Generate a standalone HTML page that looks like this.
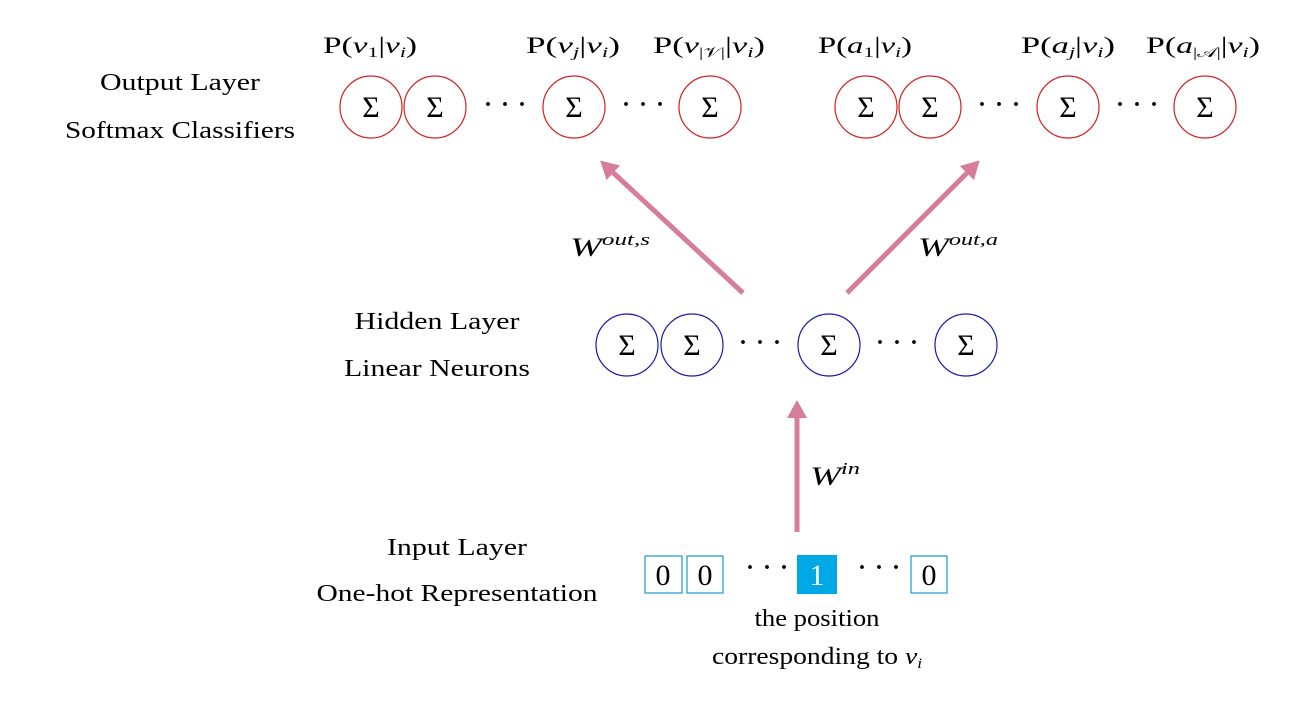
<!DOCTYPE html>
<html><head><meta charset="utf-8"><style>
html,body{margin:0;padding:0;background:#fff}
svg{display:block}
text{font-family:"Liberation Serif",serif;fill:#000}
.l{font-size:24px;text-anchor:middle}
.s{font-size:30px;text-anchor:middle}
.i{font-style:italic}
</style></head><body>
<svg width="1304" height="705" viewBox="0 0 1304 705" xmlns="http://www.w3.org/2000/svg">
<defs><marker id="ah" markerWidth="5" markerHeight="5" refX="2" refY="2.5" orient="auto" markerUnits="strokeWidth"><path d="M0,0.5 L3.6,2.5 L0,4.5 Z" fill="#d77d9c"/></marker></defs>
<!-- labels -->
<text class="l" x="180" y="90" textLength="160" lengthAdjust="spacingAndGlyphs">Output Layer</text>
<text class="l" x="180" y="138" textLength="230" lengthAdjust="spacingAndGlyphs">Softmax Classifiers</text>
<text class="l" x="437" y="329" textLength="165" lengthAdjust="spacingAndGlyphs">Hidden Layer</text>
<text class="l" x="437" y="376" textLength="186" lengthAdjust="spacingAndGlyphs">Linear Neurons</text>
<text class="l" x="457" y="555" textLength="140" lengthAdjust="spacingAndGlyphs">Input Layer</text>
<text class="l" x="457" y="601" textLength="281" lengthAdjust="spacingAndGlyphs">One-hot Representation</text>
<!-- P labels -->
<g font-size="23" text-anchor="middle">
<text x="370" y="53" textLength="94" lengthAdjust="spacingAndGlyphs">P(<tspan class="i">v</tspan><tspan font-size="15" dy="4">1</tspan><tspan dy="-4">|</tspan><tspan class="i">v</tspan><tspan font-size="15" class="i" dy="4">i</tspan><tspan dy="-4">)</tspan></text>
<text x="573" y="53" textLength="94" lengthAdjust="spacingAndGlyphs">P(<tspan class="i">v</tspan><tspan font-size="15" class="i" dy="4">j</tspan><tspan dy="-4">|</tspan><tspan class="i">v</tspan><tspan font-size="15" class="i" dy="4">i</tspan><tspan dy="-4">)</tspan></text>
<text x="709" y="53" textLength="112" lengthAdjust="spacingAndGlyphs">P(<tspan class="i">v</tspan><tspan font-size="14" dy="4">|𝒱|</tspan><tspan dy="-4">|</tspan><tspan class="i">v</tspan><tspan font-size="15" class="i" dy="4">i</tspan><tspan dy="-4">)</tspan></text>
<text x="865" y="53" textLength="94" lengthAdjust="spacingAndGlyphs">P(<tspan class="i">a</tspan><tspan font-size="15" dy="4">1</tspan><tspan dy="-4">|</tspan><tspan class="i">v</tspan><tspan font-size="15" class="i" dy="4">i</tspan><tspan dy="-4">)</tspan></text>
<text x="1068" y="53" textLength="94" lengthAdjust="spacingAndGlyphs">P(<tspan class="i">a</tspan><tspan font-size="15" class="i" dy="4">j</tspan><tspan dy="-4">|</tspan><tspan class="i">v</tspan><tspan font-size="15" class="i" dy="4">i</tspan><tspan dy="-4">)</tspan></text>
<text x="1203" y="53" textLength="114" lengthAdjust="spacingAndGlyphs">P(<tspan class="i">a</tspan><tspan font-size="14" dy="4">|𝒜|</tspan><tspan dy="-4">|</tspan><tspan class="i">v</tspan><tspan font-size="15" class="i" dy="4">i</tspan><tspan dy="-4">)</tspan></text>
</g>
<!-- output circles -->
<g fill="none" stroke="#d42020" stroke-width="1.2">
<circle cx="371" cy="107" r="31"/><circle cx="435" cy="107" r="31"/><circle cx="574" cy="107" r="31"/><circle cx="710" cy="107" r="31"/>
<circle cx="866" cy="107" r="31"/><circle cx="930" cy="107" r="31"/><circle cx="1068" cy="107" r="31"/><circle cx="1205" cy="107" r="31"/>
</g>
<g fill="none" stroke="#1a1aaa" stroke-width="1.2">
<circle cx="627" cy="345" r="31"/><circle cx="692" cy="345" r="31"/><circle cx="829" cy="345" r="31"/><circle cx="966" cy="345" r="31"/>
</g>
<g>
<text class="s" x="371" y="117">Σ</text><text class="s" x="435" y="117">Σ</text><text class="s" x="574" y="117">Σ</text><text class="s" x="710" y="117">Σ</text>
<text class="s" x="866" y="117">Σ</text><text class="s" x="930" y="117">Σ</text><text class="s" x="1068" y="117">Σ</text><text class="s" x="1205" y="117">Σ</text>
<text class="s" x="627" y="355">Σ</text><text class="s" x="692" y="355">Σ</text><text class="s" x="829" y="355">Σ</text><text class="s" x="966" y="355">Σ</text>
</g>
<g font-size="26" font-weight="bold">
<text class="l" x="505" y="112" textLength="42">· · ·</text><text class="l" x="643" y="112" textLength="42">· · ·</text>
<text class="l" x="999" y="112" textLength="42">· · ·</text><text class="l" x="1137" y="112" textLength="42">· · ·</text>
<text class="l" x="760" y="350" textLength="42">· · ·</text><text class="l" x="897" y="350" textLength="42">· · ·</text>
<text class="l" x="767" y="575" textLength="42">· · ·</text><text class="l" x="879" y="575" textLength="42">· · ·</text>
</g>
<!-- arrows -->
<g stroke="#d77d9c" stroke-width="5" fill="none">
<line x1="743" y1="293" x2="606" y2="166" marker-end="url(#ah)"/>
<line x1="847" y1="293" x2="974" y2="166" marker-end="url(#ah)"/>
<line x1="797" y1="532" x2="797" y2="408" marker-end="url(#ah)"/>
</g>
<text x="570" y="256" font-size="26" class="i" textLength="80" lengthAdjust="spacingAndGlyphs">W<tspan font-size="17" dy="-11">out,s</tspan></text>
<text x="918" y="256" font-size="26" class="i" textLength="80" lengthAdjust="spacingAndGlyphs">W<tspan font-size="17" dy="-11">out,a</tspan></text>
<text x="810" y="485" font-size="26" class="i" textLength="50" lengthAdjust="spacingAndGlyphs">W<tspan font-size="17" dy="-11">in</tspan></text>
<!-- input boxes -->
<g fill="none" stroke="#1a9ad0" stroke-width="1.2">
<rect x="645" y="556" width="37" height="37"/><rect x="687" y="556" width="36" height="37"/><rect x="911" y="556" width="36" height="37"/>
</g>
<rect x="797" y="555" width="40" height="39" fill="#00a8e6"/>
<g font-size="30" text-anchor="middle">
<text x="663" y="585">0</text><text x="705" y="585">0</text><text x="817" y="585" style="fill:#fff">1</text><text x="929" y="585">0</text>
</g>
<text class="l" x="817" y="626" textLength="125" lengthAdjust="spacingAndGlyphs">the position</text>
<text class="l" x="817" y="664" textLength="210" lengthAdjust="spacingAndGlyphs">corresponding to <tspan class="i">v</tspan><tspan font-size="15" class="i" dy="4">i</tspan></text>
</svg>
</body></html>
